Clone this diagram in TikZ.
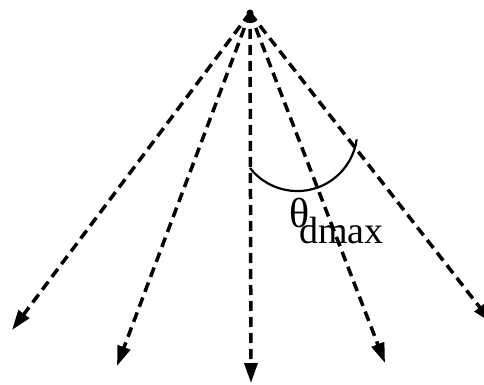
\documentclass[tikz,border=0pt]{standalone}
\usepackage{fontspec}
\setmainfont{Liberation Serif}
\usetikzlibrary{arrows.meta}
\begin{document}
\begin{tikzpicture}[x=1pt,y=-1pt,
  ray/.style={line width=3.5pt,dash pattern=on 10pt off 6pt,
    -{Triangle[length=20pt,width=13pt]}},
  anglearc/.style={line width=2.2pt}]
\useasboundingbox (0,0) rectangle (484,385);
\clip (0,0) rectangle (484,385);
\coordinate (apex) at (250,13);
\coordinate (t1) at (12,330);
\coordinate (t2) at (117,366);
\coordinate (t3) at (251,383);
\coordinate (t4) at (385,363);
\coordinate (t5) at (492,323);
\fill (apex) circle (3.5pt);
\foreach \t in {t1,t2,t3,t4,t5}{
  \draw[ray] (apex) -- (\t);
}
\draw[anglearc] (250,168) arc[start angle=142,end angle=8,radius=60];
\node[anchor=base west,inner sep=0pt] (lbl) at (289,227)
  {\fontsize{42}{42}\selectfont θ\kern-10pt\raisebox{-16pt}{\fontsize{38}{38}\selectfont dmax}};
\end{tikzpicture}
\end{document}
